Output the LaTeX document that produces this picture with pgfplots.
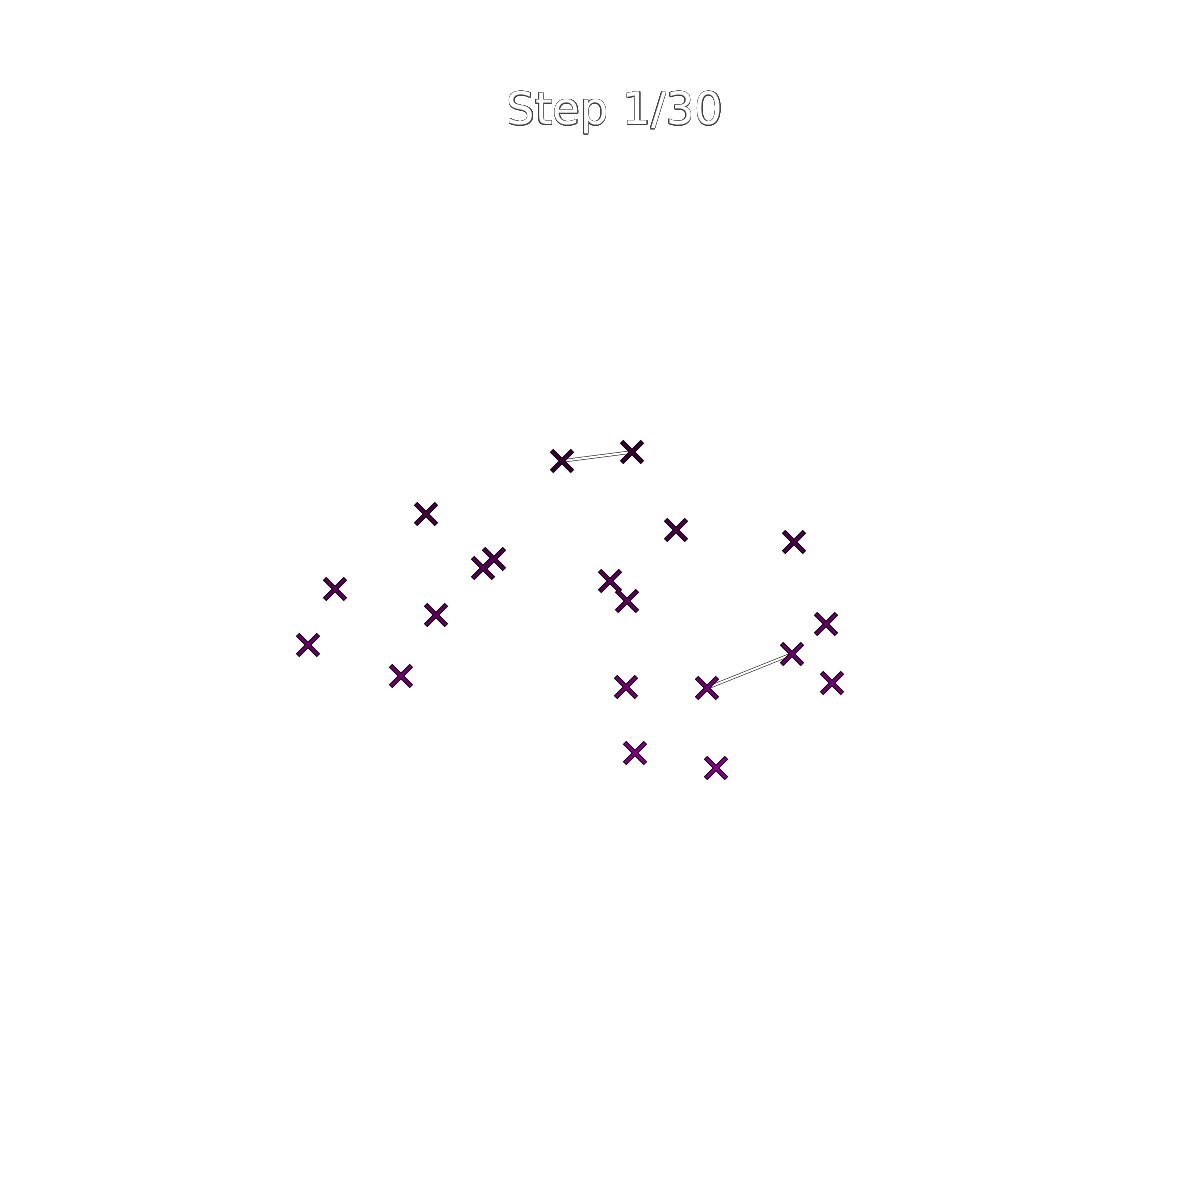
\documentclass[border=0pt]{standalone}
\usepackage{pgfplots}
\pgfplotsset{compat=1.18}
\usepackage{fontspec}
\setmainfont{DejaVu Sans}
\usepackage{contour}
\contourlength{0.12pt}
\contournumber{24}
\pgfplotstableread{
x y m
562 739 461
632 748 452
426 686 514
676 670 530
794 658 542
494 641 559
483 632 568
335 611 589
610 619 581
627 599 601
436 585 615
826 576 624
308 555 645
792 546 654
401 524 676
626 513 687
707 512 688
832 517 683
635 447 753
716 432 768
}\pts
\pgfplotsset{colormap={purp}{rgb255=(50,0,45) rgb255=(130,0,130)}}
\begin{document}
\begin{tikzpicture}
\begin{axis}[width=10cm,height=10cm,scale only axis,xmin=0,xmax=1200,ymin=0,ymax=1200,hide axis,clip=false,point meta min=450,point meta max=770]
\path[fill=white] (rel axis cs:0,0) rectangle (rel axis cs:1,1);
\addplot[only marks,mark=x,mark size=3.5pt,mark options={draw=black,line width=1.15pt}] table[x=x,y=y] {\pts};
\addplot[scatter,only marks,mark=x,mark size=3.3pt,mark options={line width=0.7pt},scatter/use mapped color={draw=mapped color},point meta=explicit] table[x=x,y=y,meta=m] {\pts};
\addplot[draw=black,double=white,line width=0.12pt,double distance=0.5pt] coordinates {(562,739) (632,748)};
\addplot[draw=black,double=white,line width=0.12pt,double distance=0.5pt] coordinates {(707,512) (792,546)};
\node[font=\fontsize{10.6}{13}\selectfont] at (axis cs:615,1087) {\color{white}\contour{darkgray}{Step 1/30}};
\end{axis}
\end{tikzpicture}
\end{document}
